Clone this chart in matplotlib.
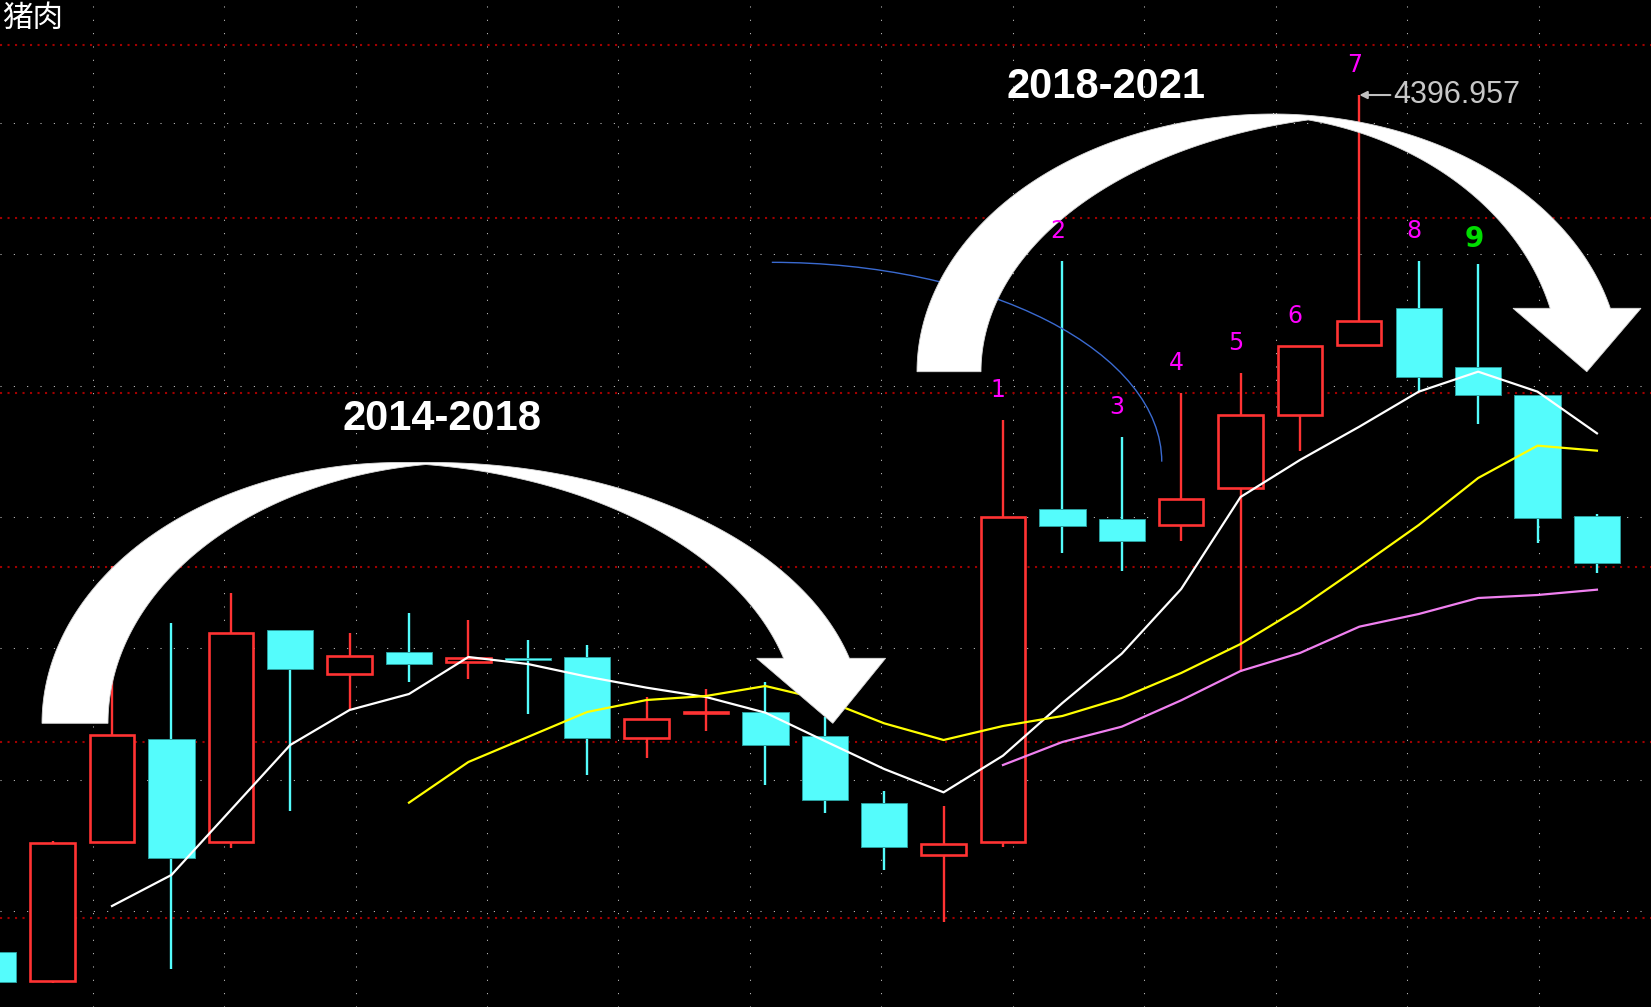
import numpy as np
import matplotlib
matplotlib.use("Agg")
import matplotlib.pyplot as plt
from matplotlib.patches import Polygon, Arc
from matplotlib.transforms import Affine2D

plt.rcParams['lines.scale_dashes'] = False
plt.rcParams['font.family'] = ['Noto Sans CJK SC', 'DejaVu Sans']

W, H = 1651, 1007

# pork index candles
opens  = [1827, 1740, 2157, 2465, 2157, 2791, 2660, 2725, 2697, 2709,
          2710, 2467, 2542, 2547, 2474, 2272, 2118, 2157, 3156, 3126,
          3106, 3219, 3437, 3648, 3757, 3580, 3497, 3134]
highs  = [1827, 2160, 2984, 2814, 2902, 2791, 2784, 2844, 2821, 2762,
          2747, 2590, 2614, 2635, 2532, 2309, 2264, 3422, 3900, 3371,
          3504, 3563, 3645, 4396.957, 3899, 3890, 3497, 3141]
lows   = [1737, 1732, 2157, 1775, 2139, 2249, 2552, 2636, 2644, 2540,
          2357, 2407, 2489, 2328, 2243, 2072, 1917, 2140, 3022, 2970,
          3059, 2667, 3330, 3648, 3507, 3409, 3052, 2962]
closes = [1737, 2152, 2478, 2109, 2784, 2674, 2715, 2689, 2709, 2703,
          2468, 2524, 2545, 2448, 2281, 2140, 2151, 3132, 3104, 3059,
          3184, 3436, 3645, 3718, 3550, 3497, 3127, 2992]

# moving averages (first visible bar index, values)
ma_white_start = 2
ma_white = [1964, 2057, 2252, 2447, 2552, 2600, 2711, 2690, 2652, 2619,
            2591, 2544, 2459, 2375, 2305, 2415, 2573, 2721, 2915, 3191,
            3302, 3402, 3507, 3567, 3507, 3382]
ma_yellow_start = 7
ma_yellow = [2274, 2396, 2471, 2546, 2582, 2594, 2624, 2582, 2512, 2462,
             2504, 2534, 2588, 2663, 2750, 2858, 2981, 3107, 3248, 3345, 3330]
ma_pink_start = 17
ma_pink = [2387, 2456, 2502, 2581, 2669, 2723, 2802, 2840, 2888, 2897, 2913]

# count labels 1..9 over bars 17..25
count_start = 17
count_labels = ["1", "2", "3", "4", "5", "6", "7", "8", "9"]

red_levels = [1927, 2455, 2982, 3502, 4027, 4547]

RED = "#ff3333"
CYAN = "#54fcfc"

fig = plt.figure(figsize=(W / 100, H / 100), dpi=100, facecolor="black")
ax = fig.add_axes([0, 0, 1, 1], facecolor="black")
ax.set_autoscale_on(False)
ax.set_xlim(0.1145, 27.91)
ax.set_ylim(1661, 4682)
ax.axis("off")

# screen grid (white dots) and price grid (red dots)
for j in range(12):
    f = (92.6 + 131.45 * j) / W
    ax.plot([f, f], [0, 1], transform=ax.transAxes, color="#c8c8c8",
            lw=0.75, dashes=(0.75, 8.85), zorder=1)
for i in range(7):
    f = 1 - (123 + 131.3 * i) / H
    ax.plot([0, 1], [f, f], transform=ax.transAxes, color="#c8c8c8",
            lw=0.75, dashes=(0.75, 8.85), zorder=1)
for yv in red_levels:
    ax.axhline(yv, color="#a00000", lw=1.5, dashes=(1.5, 3.9), zorder=1)

# candles
x = np.arange(len(opens))
o = np.array(opens, float)
c = np.array(closes, float)
up = c >= o
ax.vlines(x, lows, highs, colors=[RED if u else CYAN for u in up], lw=1.7, zorder=2)
ax.bar(x[up], np.maximum(np.abs(c - o)[up], 1), 0.745, bottom=np.minimum(o, c)[up],
       facecolor="black", edgecolor=RED, lw=1.9, zorder=3)
ax.bar(x[~up], np.abs(c - o)[~up], 0.78, bottom=np.minimum(o, c)[~up],
       facecolor=CYAN, edgecolor="#2a9d9d", lw=0.7, zorder=3)

# moving averages
ax.plot(np.arange(len(ma_white)) + ma_white_start, ma_white, color="white", lw=1.6, zorder=4)
ax.plot(np.arange(len(ma_yellow)) + ma_yellow_start, ma_yellow, color="#ffff00", lw=1.6, zorder=4)
ax.plot(np.arange(len(ma_pink)) + ma_pink_start, ma_pink, color="#f080f0", lw=1.6, zorder=4)

# thin blue arc
ax.add_patch(Arc((13.108, 3297), 13.13, 1196, theta1=0, theta2=90,
                 color="#3a6ad0", lw=1.0, zorder=5))

# count labels
for k, lab in enumerate(count_labels):
    i = count_start + k
    if lab == "9":
        ax.annotate(lab, (i, highs[i]), xytext=(-4, 17), textcoords="offset pixels",
                    ha="center", va="baseline", color="#00dd00", fontsize=20,
                    fontweight="bold", family="DejaVu Sans", zorder=10)
    else:
        ax.annotate(lab, (i, highs[i]), xytext=(-5, 23), textcoords="offset pixels",
                    ha="center", va="baseline", color="#ff00ff", fontsize=17,
                    family="DejaVu Sans", zorder=10)

# peak marker
top_i = int(np.argmax(highs))
ax.annotate("", (top_i, highs[top_i]), xytext=(31, 0), textcoords="offset pixels",
            arrowprops=dict(arrowstyle="-|>", color="#c0c0c0", lw=1.5,
                            mutation_scale=11, shrinkA=0, shrinkB=0), zorder=10)
ax.annotate(f"{highs[top_i]:.3f}", (top_i, highs[top_i]), xytext=(34, -8),
            textcoords="offset pixels", ha="left", va="baseline",
            color="#c8c8c8", fontsize=22, family="Liberation Sans", zorder=10)

# big curved arrows (drawn in pixel space, origin top-left)
px = Affine2D().scale(1, -1).translate(0, H)


def bow_arrow(base, top, outer_l, outer_r, inner_l, inner_r, head_y, head_l, head_r, tip_x):
    b = base - top
    th_end = np.arcsin((base - head_y) / b)
    t = np.linspace(np.pi, np.pi / 2, 90)
    up_l = np.c_[outer_l[0] + outer_l[1] * np.cos(t), base - b * np.sin(t)]
    t = np.linspace(np.pi / 2, th_end, 90)
    up_r = np.c_[outer_r[0] + outer_r[1] * np.cos(t), base - b * np.sin(t)]
    head = np.array([[head_r, head_y], [tip_x, base], [head_l, head_y]])
    kc = (inner_l[0] - inner_r[0]) / (inner_l[1] + inner_r[1])
    tc = np.arccos(kc)
    t = np.linspace(th_end, tc, 90)
    in_r = np.c_[inner_r[0] + inner_r[1] * np.cos(t), base - b * np.sin(t)]
    t = np.linspace(np.pi - tc, np.pi, 90)
    in_l = np.c_[inner_l[0] + inner_l[1] * np.cos(t), base - b * np.sin(t)]
    pts = np.vstack([up_l, up_r, head, in_r, in_l])
    ax.add_patch(Polygon(pts, closed=True, transform=px, facecolor="white",
                         edgecolor="#d8d8d8", lw=0.6, zorder=6))


bow_arrow(723.3, 462.5, (400, 358), (432, 431), (471, 363), (373, 424),
          658.3, 756.7, 885.6, 832.8)
bow_arrow(371.7, 114, (1274, 357), (1273, 348), (1397, 416), (1240, 320),
          308.3, 1513, 1641, 1586.8)

# period captions
ax.text(7.556, 3392, "2014-2018", ha="center", va="baseline", color="white",
        fontsize=30, fontweight="bold", family="Liberation Sans", zorder=10)
ax.text(18.735, 4387, "2018-2021", ha="center", va="baseline", color="white",
        fontsize=30, fontweight="bold", family="Liberation Sans", zorder=10)

fig.text(0.001, 1 - 3 / H, "猪肉", ha="left", va="top", color="white",
         fontsize=22, family=["Noto Sans CJK SC", "DejaVu Sans"])

fig.savefig("out.png", dpi=100, facecolor="black")
